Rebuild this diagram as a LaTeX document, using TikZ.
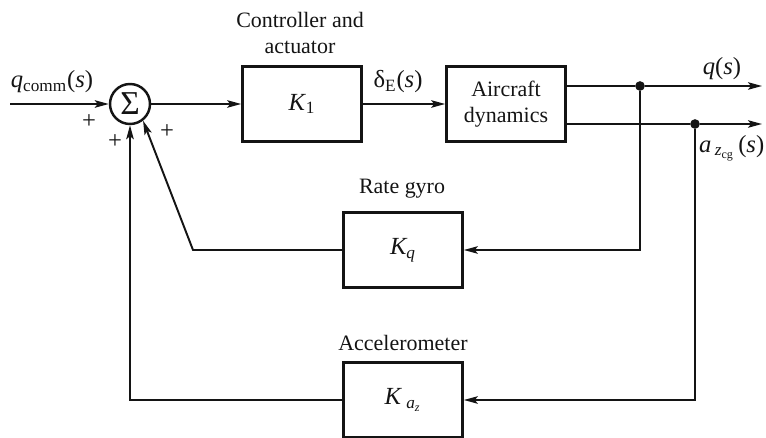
\documentclass[tikz,border=0pt]{standalone}
\usepackage{fontspec}
\setmainfont{Liberation Serif}
\usetikzlibrary{arrows.meta,calc,positioning}
\definecolor{bdink}{HTML}{141414}
\tikzset{
  bd text/.style={font=\fontsize{12.5}{15}\selectfont, text=bdink},
  bd block/.style={draw=bdink, line width=1.5pt, fill=white,
    minimum width=2.38cm, minimum height=1.5cm, align=center, inner sep=0pt},
  bd sum/.style={draw=bdink, line width=1.4pt, circle, minimum size=0.8cm, inner sep=0pt},
  bd arrow/.style={-{Stealth[length=2.8mm,width=1.5mm,inset=0.6mm]}, line width=1.1pt,
    draw=bdink},
  bd line/.style={line width=1.1pt, draw=bdink},
  bd dot/.style={circle, fill=bdink, inner sep=0pt, minimum size=5.5pt},
  bd label/.style={align=center, inner sep=1pt},
  bd sign/.style={inner sep=0pt, font=\fontsize{14}{14}\selectfont}
}
\begin{document}
\begin{tikzpicture}[bd text, x=0.02cm, y=-0.02cm]
  \useasboundingbox (0,0) rectangle (766,438);
  % blocks
  \node[bd sum] (sum) at (130,104) {\fontsize{19}{19}\selectfont Σ};
  \node[bd block] (ctrl) at (302,104) {\fontsize{14}{14}\selectfont\textit{K}\textsubscript{1}};
  \node[bd block] (plant) at (506,104) {Aircraft\\dynamics};
  \node[bd block] (gyro) at (403,250) {\fontsize{14}{14}\selectfont\textit{K\textsubscript{q}}};
  \node[bd block] (accel) at (403,400) {\fontsize{14}{14}\selectfont\textit{K}\,\textsubscript{\textit{a\textsubscript{z}}}};
  % block titles
  \node[bd label] (ctrltitle) at (300,33) {Controller and\\actuator};
  \node[bd label] (gyrotitle) at (402,189) {Rate gyro};
  \node[bd label] (acceltitle) at (403,343) {Accelerometer};
  % signal points
  \coordinate (in) at (10,104);
  \node[bd dot] (dq) at (640,86) {};
  \node[bd dot] (da) at (695,124) {};
  \coordinate (qend) at (762,86);
  \coordinate (aend) at (762,124);
  \coordinate (gcorner) at (193,250);
  % forward path
  \draw[bd arrow] (in) -- (sum);
  \draw[bd arrow] (sum) -- (ctrl);
  \draw[bd arrow] (ctrl) -- (plant);
  \draw[bd line] (plant.east |- dq) -- (dq);
  \draw[bd arrow] (dq) -- (qend);
  \draw[bd line] (plant.east |- da) -- (da);
  \draw[bd arrow] (da) -- (aend);
  % feedback paths
  \draw[bd arrow] (dq) |- (gyro.east);
  \draw[bd arrow] (gyro.west) -- (gcorner) -- (sum.-52);
  \draw[bd arrow] (da) |- (accel.east);
  \draw[bd arrow] (accel.west) -| (sum.south);
  % signal labels
  \node[bd label] (qcomm) at (52,82) {\fontsize{14}{14}\selectfont\textit{q}\textsubscript{comm}(\textit{s})};
  \node[bd label] (deltae) at (398,82) {\fontsize{14}{14}\selectfont δ\textsubscript{E}(\textit{s})};
  \node[bd label] (qout) at (722,69) {\fontsize{14}{14}\selectfont\textit{q}(\textit{s})};
  \node[bd label, anchor=west] (aout) at (697,148) {\fontsize{14}{14}\selectfont\textit{a}\hspace{2pt}\textsubscript{\textit{z}\textsubscript{cg}}\hspace{2pt}(\textit{s})};
  % signs
  \node[bd sign] (s1) at (89,122) {+};
  \node[bd sign] (s2) at (115,142) {+};
  \node[bd sign] (s3) at (167,132) {+};
\end{tikzpicture}
\end{document}
